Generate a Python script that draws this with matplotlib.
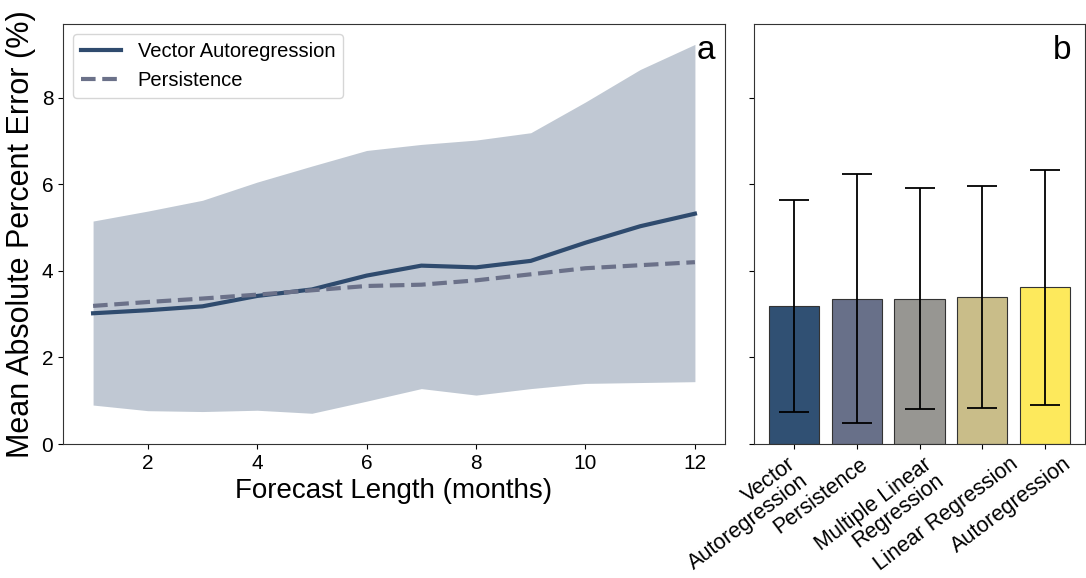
import matplotlib
matplotlib.use('Agg')
import matplotlib.pyplot as plt
from matplotlib.transforms import ScaledTranslation
import numpy as np

plt.rcParams['font.family'] = ['Liberation Sans', 'DejaVu Sans']

# panel a: error vs forecast length
months = [1, 2, 3, 4, 5, 6, 7, 8, 9, 10, 11, 12]
var_mape = [3.02, 3.09, 3.18, 3.42, 3.57, 3.89, 4.12, 4.08, 4.23, 4.65, 5.03, 5.32]
pers_mape = [3.19, 3.28, 3.36, 3.45, 3.55, 3.65, 3.68, 3.78, 3.92, 4.06, 4.13, 4.20]
var_upper = [5.15, 5.38, 5.63, 6.05, 6.42, 6.78, 6.92, 7.02, 7.19, 7.90, 8.65, 9.23]
var_lower = [0.90, 0.77, 0.75, 0.78, 0.71, 0.99, 1.28, 1.13, 1.28, 1.40, 1.42, 1.44]

# panel b: mean error per model with spread
models = ['Vector\nAutoregression', 'Persistence', 'Multiple Linear\nRegression',
          'Linear Regression', 'Autoregression']
model_mape = [3.19, 3.36, 3.36, 3.40, 3.62]
model_low = [0.74, 0.49, 0.82, 0.84, 0.91]
model_high = [5.64, 6.24, 5.91, 5.95, 6.33]
bar_colors = ['#305073', '#687089', '#979692', '#c9bd89', '#fde95c']

VAR_COLOR = '#2f4b6e'
PERS_COLOR = '#6b7189'

fig = plt.figure(figsize=(10.86, 5.78), dpi=100)
ax1 = fig.add_axes([0.058, 0.2318, 0.6096, 0.7266])
ax2 = fig.add_axes([0.6943, 0.2318, 0.3048, 0.7266], sharey=ax1)

ax1.fill_between(months, var_lower, var_upper, color=VAR_COLOR, alpha=0.3, lw=0)
ax1.plot(months, var_mape, color=VAR_COLOR, lw=3, label='Vector Autoregression')
ax1.plot(months, pers_mape, color=PERS_COLOR, lw=3, ls='--', dashes=(3.5, 1.6),
         label='Persistence')
ax1.set_ylim(0, 9.7)
ax1.set_xticks([2, 4, 6, 8, 10, 12])
ax1.set_yticks([0, 2, 4, 6, 8])
ax1.tick_params(labelsize=15)
ax1.set_xlabel('Forecast Length (months)', fontsize=20)
ax1.set_ylabel('Mean Absolute Percent Error (%)', fontsize=22)
ax1.legend(loc='upper left', fontsize=14.5, handlelength=2.0)
ax1.text(0.985, 0.975, 'a', transform=ax1.transAxes, ha='right', va='top', fontsize=24)

x = np.arange(len(models))
mape = np.array(model_mape)
yerr = [mape - np.array(model_low), np.array(model_high) - mape]
ax2.bar(x, mape, width=0.8, color=bar_colors, edgecolor='#333333', linewidth=0.8,
        yerr=yerr, capsize=11, error_kw=dict(elinewidth=1.3, capthick=1.3, ecolor='black'))
ax2.set_xticks(x)
ax2.set_xticklabels(models, rotation=37, ha='center', multialignment='right',
                    linespacing=0.95, fontsize=15.5)
# nudge the slanted labels left so they sit under their bars
label_dx = [-0.52, -0.36, -0.40, -0.36, -0.34]
for lbl, dx in zip(ax2.get_xticklabels(), label_dx):
    lbl.set_transform(lbl.get_transform() + ScaledTranslation(dx, 0, fig.dpi_scale_trans))
ax2.tick_params(axis='y', labelleft=False)
ax2.text(0.96, 0.975, 'b', transform=ax2.transAxes, ha='right', va='top', fontsize=24)

for ax in (ax1, ax2):
    for s in ax.spines.values():
        s.set_color('#333333')

fig.savefig('out.png', dpi=100)
